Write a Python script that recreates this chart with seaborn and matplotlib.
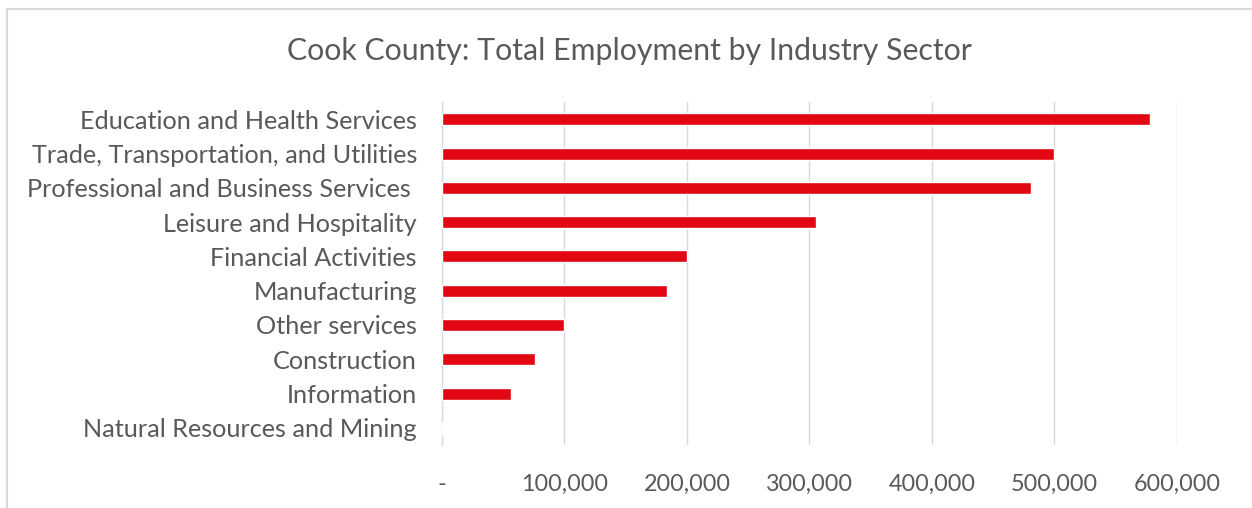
import matplotlib
matplotlib.use("Agg")
import matplotlib.pyplot as plt
import seaborn as sns
import pandas as pd
from matplotlib.lines import Line2D

sectors = [
    "Education and Health Services",
    "Trade, Transportation, and Utilities",
    "Professional and Business Services ",
    "Leisure and Hospitality",
    "Financial Activities",
    "Manufacturing",
    "Other services",
    "Construction",
    "Information",
    "Natural Resources and Mining",
]
employment = [578000, 500000, 481000, 305000, 200000, 184000, 100000, 76000, 56000, 1100]
x_ticks = [0, 100000, 200000, 300000, 400000, 500000, 600000]
x_tick_labels = ["-", "100,000", "200,000", "300,000", "400,000", "500,000", "600,000"]

df = pd.DataFrame({"sector": sectors, "employment": employment})

sns.set_theme(style="white")
plt.rcParams["font.family"] = ["Lato", "DejaVu Sans"]

text_grey = "#595959"
bar_red = "#E30613"

fig = plt.figure(figsize=(12.52, 5.08), dpi=100)
ax = fig.add_axes([0.353, 0.124, 0.587, 0.675])

sns.barplot(data=df, y="sector", x="employment", orient="h", color=bar_red,
            width=0.35, saturation=1, ax=ax, zorder=3)

ax.set_xlim(0, 600000)
ax.set_ylim(9.5, -0.5)
ax.set_xticks(x_ticks)
ax.set_xticklabels(x_tick_labels, color=text_grey, fontsize=16.8)
ax.tick_params(axis="x", length=0, pad=21)
ax.tick_params(axis="y", length=0, pad=18, labelsize=18.2, labelcolor=text_grey)
ax.set_xlabel("")
ax.set_ylabel("")
ax.grid(axis="x", color="#d9d9d9", linewidth=1)
ax.set_axisbelow(True)
for side in ["top", "right", "bottom"]:
    ax.spines[side].set_visible(False)
ax.spines["left"].set_color("#d9d9d9")
ax.spines["left"].set_linewidth(1)
ax.spines["left"].set_zorder(1)

fig.text(0.503, 0.9, "Cook County: Total Employment by Industry Sector",
         ha="center", va="center", fontsize=21.8, color=text_grey)

# outer chart frame
fig.add_artist(Line2D([7 / 1252, 7 / 1252], [0, 1 - 9 / 508], transform=fig.transFigure,
                      color="#d9d9d9", linewidth=1.5))
fig.add_artist(Line2D([7 / 1252, 1], [1 - 9 / 508, 1 - 9 / 508], transform=fig.transFigure,
                      color="#d9d9d9", linewidth=1.5))

fig.savefig("out.png", dpi=100)
